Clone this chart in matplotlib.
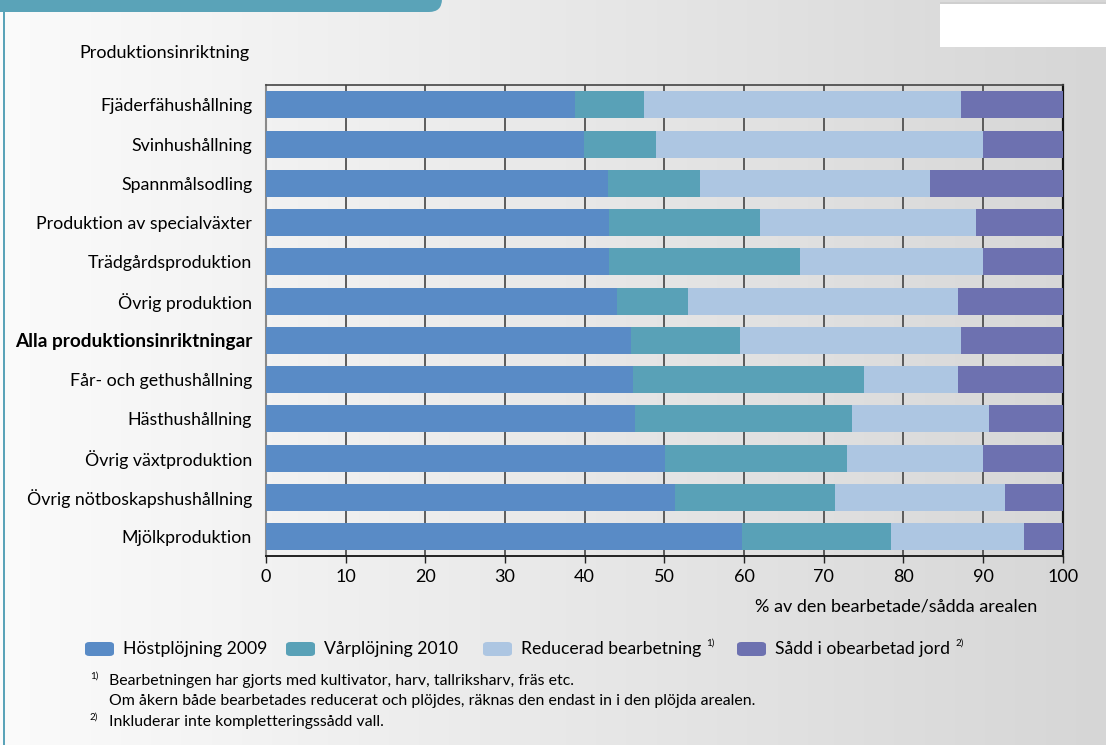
import numpy as np
import matplotlib
matplotlib.use("Agg")
import matplotlib.pyplot as plt
from matplotlib.patches import FancyBboxPatch, Rectangle
from matplotlib.colors import LinearSegmentedColormap

plt.rcParams['font.family'] = ['Lato', 'DejaVu Sans']

# produktionsinriktningar, uppifrån och ned
categories = [
    "Fjäderfähushållning",
    "Svinhushållning",
    "Spannmålsodling",
    "Produktion av specialväxter",
    "Trädgårdsproduktion",
    "Övrig produktion",
    "Alla produktionsinriktningar",
    "Får- och gethushållning",
    "Hästhushållning",
    "Övrig växtproduktion",
    "Övrig nötboskapshushållning",
    "Mjölkproduktion",
]

# andel av arealen (%)
host_2009 = [38.8, 39.9, 42.9, 43.1, 43.1, 44.1, 45.8, 46.1, 46.3, 50.1, 51.3, 59.8]
var_2010 = [8.6, 9.0, 11.6, 18.9, 23.9, 8.9, 13.7, 29.0, 27.3, 22.8, 20.1, 18.6]
reducerad = [39.8, 41.1, 28.8, 27.1, 23.0, 33.9, 27.7, 11.8, 17.2, 17.1, 21.4, 16.7]
sadd = [12.8, 10.0, 16.7, 10.9, 10.0, 13.1, 12.8, 13.1, 9.2, 10.0, 7.2, 4.9]

series_labels = ["Höstplöjning 2009", "Vårplöjning 2010",
                 "Reducerad bearbetning", "Sådd i obearbetad jord"]
series_notes = ["", "", "1)", "2)"]
colors = ["#598bc6", "#59a1b7", "#adc6e2", "#6d71b0"]

x_ticks = [0, 10, 20, 30, 40, 50, 60, 70, 80, 90, 100]

W, H = 1106, 745
fig = plt.figure(figsize=(W / 100, H / 100), dpi=100)

# bakgrund med gråtoning
bg = fig.add_axes([0, 0, 1, 1], zorder=-10)
grad = np.linspace(0, 1, 256)[None, :]
cmap = LinearSegmentedColormap.from_list("bg", ["#fbfbfb", "#d6d6d6"])
bg.imshow(grad, aspect="auto", cmap=cmap, extent=[0, W, 0, H])
bg.set_xlim(0, W)
bg.set_ylim(H, 0)
bg.axis("off")

# rubrikflik och kantlinje
bg.add_patch(FancyBboxPatch((-40, -40), 482, 52, boxstyle="round,pad=0,rounding_size=13",
                            fc="#5aa3b8", ec="none"))
bg.add_patch(Rectangle((3, 0), 2.2, H, fc="#5aa3b8", ec="none"))
bg.add_patch(Rectangle((940, 3), 170, 44, fc="white", ec="none"))
bg.add_patch(Rectangle((940, 2), 170, 1.5, fc="#cfcfcf", ec="none"))

ax = fig.add_axes([266 / W, 1 - 556.3 / H, (1062.7 - 266) / W, (556.3 - 85.3) / H])
ax.patch.set_alpha(0)

y = np.arange(len(categories))
data = [host_2009, var_2010, reducerad, sadd]
left = np.zeros(len(categories))
for vals, col in zip(data, colors):
    vals = np.array(vals)
    ax.barh(y, vals, left=left, height=0.69, color=col, edgecolor="none", zorder=3)
    left += vals

ax.set_xlim(0, 100)
ax.set_ylim(len(categories) - 0.5, -0.5)
ax.set_xticks(x_ticks)
ax.set_xticklabels([str(t) for t in x_ticks], fontsize=13)
ax.set_yticks(y)
ax.set_yticklabels(categories, fontsize=12.8)
for lbl in ax.get_yticklabels():
    if lbl.get_text().startswith("Alla"):
        lbl.set_fontweight("bold")
        lbl.set_fontsize(13.7)
ax.tick_params(axis="y", length=0, pad=10)
ax.tick_params(axis="x", length=5, width=1, color="#222222", pad=4)

ax.grid(axis="x", color="#444444", linewidth=1.2, zorder=0)
ax.set_axisbelow(True)
ax.spines["left"].set_color("#8a8a8a")
ax.spines["left"].set_linewidth(1.5)
ax.spines["top"].set_color("#444444")
ax.spines["top"].set_linewidth(1.2)
ax.spines["right"].set_color("#111111")
ax.spines["right"].set_linewidth(1.6)
ax.spines["bottom"].set_color("#222222")
ax.spines["bottom"].set_linewidth(1.4)

fig.text(79 / W, 1 - 53 / H, "Produktionsinriktning", fontsize=13, va="center", ha="left")
fig.text(1037 / W, 1 - 606 / H, "% av den bearbetade/sådda arealen", fontsize=13,
         va="center", ha="right")

# teckenförklaring
leg_x = [85, 286, 483, 737]
for lx, lab, note, col in zip(leg_x, series_labels, series_notes, colors):
    fig.patches.append(FancyBboxPatch((lx / W, 1 - 656 / H), 29 / W, 14 / H,
                                      boxstyle="round,pad=0,rounding_size=0.004",
                                      transform=fig.transFigure, fc=col, ec="none"))
    t = fig.text((lx + 38) / W, 1 - 649 / H, lab, fontsize=12.7, va="center", ha="left")
    if note:
        fig.canvas.draw()
        bb = t.get_window_extent()
        fig.text((bb.x1 + 5) / W, 1 - 643 / H, note, fontsize=7, va="center", ha="left")

# fotnoter
fig.text(90 / W, 1 - 676 / H, "1)", fontsize=7, va="center")
fig.text(109 / W, 1 - 681 / H, "Bearbetningen har gjorts med kultivator, harv, tallriksharv, fräs etc.",
         fontsize=11.4, va="center")
fig.text(109 / W, 1 - 701 / H,
         "Om åkern både bearbetades reducerat och plöjdes, räknas den endast in i den plöjda arealen.",
         fontsize=11.4, va="center")
fig.text(90 / W, 1 - 717 / H, "2)", fontsize=7, va="center")
fig.text(109 / W, 1 - 722 / H, "Inkluderar inte kompletteringssådd vall.", fontsize=11.4, va="center")

fig.savefig("out.png", dpi=100)
